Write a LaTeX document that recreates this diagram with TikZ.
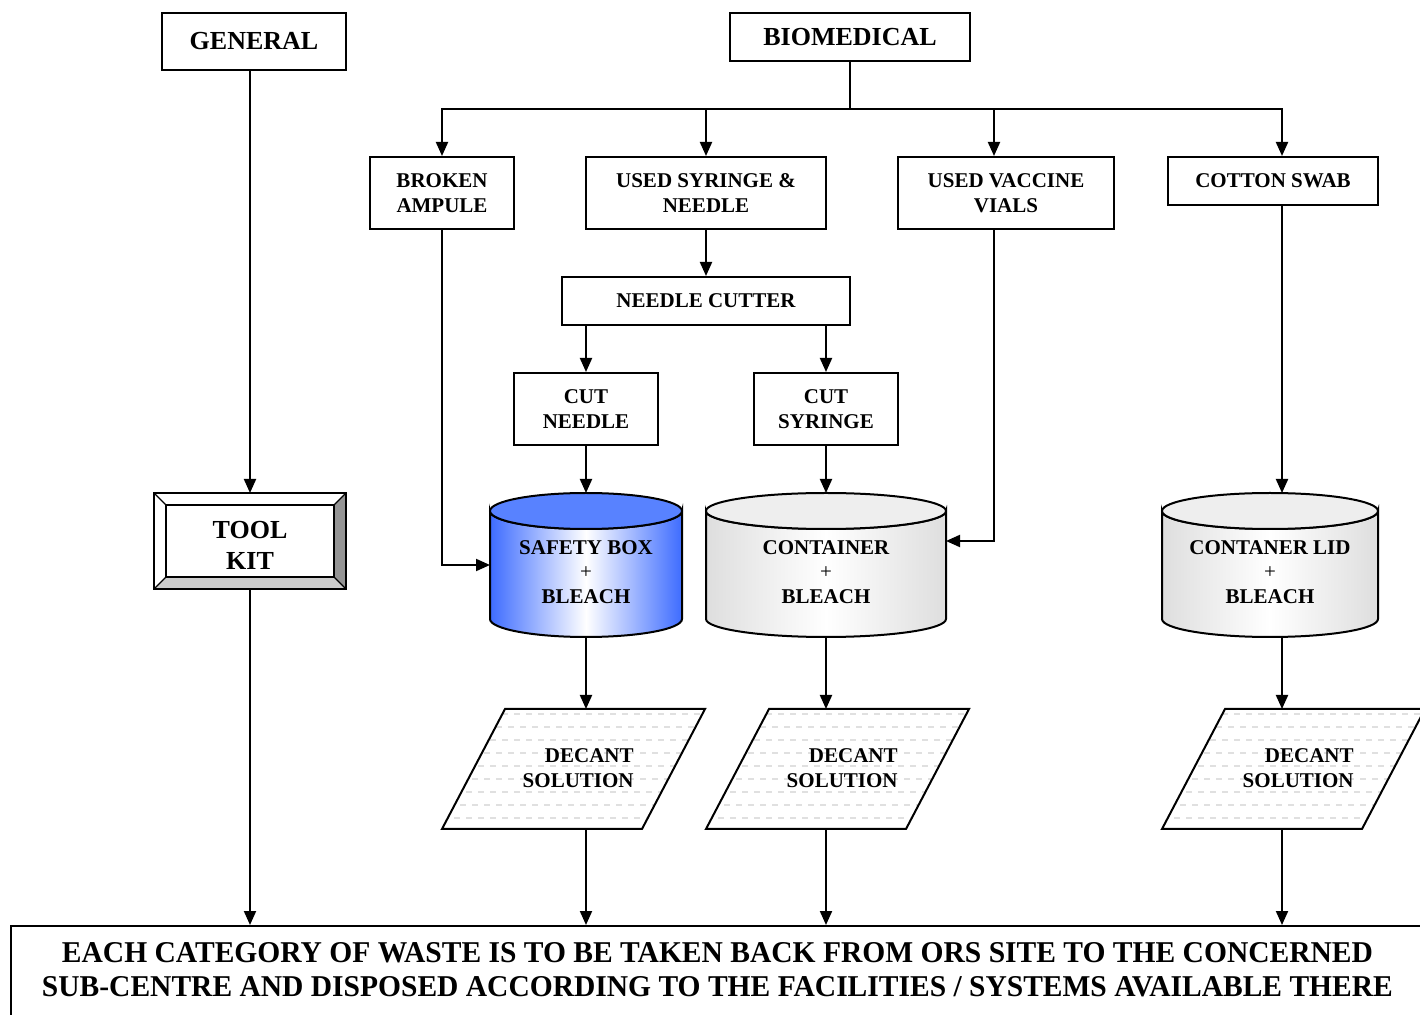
\documentclass[tikz,border=0pt]{standalone}
\usepackage{graphicx}
\usepackage{fontspec}
\setmainfont{Liberation Serif}
\usetikzlibrary{arrows.meta}
\definecolor{blueE}{RGB}{62,108,255}
\definecolor{blueT}{RGB}{88,130,255}
\definecolor{greyE}{RGB}{222,222,222}
\definecolor{greyT}{RGB}{238,238,238}
\newcommand\mycyl[6]{%
  \shadedraw[left color=#5,right color=#5,middle color=white,line width=1pt]
    (#1-#2,#3+18) -- (#1-#2,#4-18) arc[start angle=180,end angle=0,x radius=#2,y radius=18]
    -- (#1+#2,#3+18) arc[start angle=0,end angle=180,x radius=#2,y radius=18] -- cycle;
  \filldraw[fill=#6,line width=1pt] (#1,#3+18) ellipse[x radius=#2,y radius=18];
}
\newcommand\mypar[1]{%
  \begin{scope}
    \clip (#1+63,709) -- (#1+263,709) -- (#1+200,829) -- (#1,829) -- cycle;
    \fill[white] (#1,709) rectangle (#1+263,829);
    \foreach \k in {0,...,9}{
      \pgfmathsetmacro\ph{mod(\k,2)*3}
      \draw[black!12,line width=0.6pt,dash pattern=on 3pt off 3pt,dash phase=\ph pt]
        (#1,714+13*\k) -- (#1+263,714+13*\k);
    }
  \end{scope}
  \draw[line width=1pt] (#1+63,709) -- (#1+263,709) -- (#1+200,829) -- (#1,829) -- cycle;
}
\begin{document}
\begin{tikzpicture}[x=0.5pt,y=-0.5pt,
  box/.style={draw,line width=1pt,align=center,inner sep=0pt,fill=white,
    font=\bfseries\fontsize{10.5}{12.5}\selectfont},
  hbox/.style={box,font=\bfseries\fontsize{13}{15.5}\selectfont},
  txt/.style={align=center,inner sep=0pt,font=\bfseries\fontsize{10.5}{12.25}\selectfont},
  ptxt/.style={align=right,inner sep=0pt,anchor=east,font=\bfseries\fontsize{10.5}{12.5}\selectfont},
  holder/.style={inner sep=0pt,outer sep=0pt},
  arr/.style={line width=1pt,-{Triangle[length=7pt,width=6pt]}},
  ln/.style={line width=1pt}
]
\useasboundingbox (0,0) rectangle (1420,1015);

% top row
\node[hbox,minimum width=92pt,minimum height=28.5pt] (general) at (254,41.5) {GENERAL};
\node[hbox,minimum width=120pt,minimum height=24pt] (bio) at (850,37) {BIOMEDICAL};
\coordinate (hub) at (850,109);

\node[box,minimum width=72pt,minimum height=36pt] (broken) at (442,193) {BROKEN\\AMPULE};
\node[box,minimum width=120pt,minimum height=36pt] (syringe) at (706,193) {USED SYRINGE \&\\NEEDLE};
\node[box,minimum width=108pt,minimum height=36pt] (vials) at (1006,193) {USED VACCINE\\VIALS};
\node[box,minimum width=105pt,minimum height=24pt] (cotton) at (1273,181) {COTTON SWAB};

\node[box,minimum width=144pt,minimum height=24pt] (cutter) at (706,301) {NEEDLE CUTTER};
\node[box,minimum width=72pt,minimum height=36pt] (cutneedle) at (586,409) {CUT\\NEEDLE};
\node[box,minimum width=72pt,minimum height=36pt] (cutsyr) at (826,409) {CUT\\SYRINGE};

% tool kit
\fill[white] (154,493) -- (346,493) -- (334,505) -- (166,505) -- cycle;
\fill[white] (154,493) -- (166,505) -- (166,577) -- (154,589) -- cycle;
\fill[black!42] (346,493) -- (346,589) -- (334,577) -- (334,505) -- cycle;
\fill[black!20] (154,589) -- (346,589) -- (334,577) -- (166,577) -- cycle;
\draw[ln] (154,493) rectangle (346,589);
\draw[ln] (166,505) rectangle (334,577);
\draw[line width=0.7pt] (154,493) -- (166,505) (346,493) -- (334,505)
  (154,589) -- (166,577) (346,589) -- (334,577);
\node[holder,minimum width=96pt,minimum height=48pt] (toolkit) at (250,541) {};
\node[txt,font=\bfseries\fontsize{13}{15.5}\selectfont] (toolkittext) at (250,545) {TOOL\\KIT};

% cylinders
\mycyl{586}{96}{493}{637}{blueE}{blueT}
\mycyl{826}{120}{493}{637}{greyE}{greyT}
\mycyl{1270}{108}{493}{637}{greyE}{greyT}
\node[holder,minimum width=96pt,minimum height=72pt] (sbox) at (586,565) {};
\node[holder,minimum width=120pt,minimum height=72pt] (cont) at (826,565) {};
\node[holder,minimum width=108pt,minimum height=72pt] (lid) at (1270,565) {};
\node[txt] (sboxtext) at (586,572) {SAFETY BOX\\\textmd{+}\\BLEACH};
\node[txt] (conttext) at (826,572) {CONTAINER\\\textmd{+}\\BLEACH};
\node[txt] (lidtext) at (1270,572) {CONTANER LID\\\textmd{+}\\BLEACH};

% parallelograms
\mypar{442}
\mypar{706}
\mypar{1162}
\node[holder,minimum width=131.5pt,minimum height=60pt] (p1) at (573.5,769) {};
\node[holder,minimum width=131.5pt,minimum height=60pt] (p2) at (837.5,769) {};
\node[holder,minimum width=131.5pt,minimum height=60pt] (p3) at (1293.5,769) {};
\node[ptxt] (p1t) at (634,768) {DECANT\\SOLUTION};
\node[ptxt] (p2t) at (898,768) {DECANT\\SOLUTION};
\node[ptxt] (p3t) at (1354,768) {DECANT\\SOLUTION};

% bottom box
\node[draw,line width=1.2pt,fill=white,anchor=north west,inner sep=0pt,
  minimum width=720pt,minimum height=60pt] (bottom) at (10,925) {};
\node[anchor=base,inner sep=0pt] (b1) at (717.5,963)
  {\resizebox{655.5pt}{10pt}{\bfseries EACH CATEGORY OF WASTE IS TO BE TAKEN BACK FROM ORS SITE TO THE CONCERNED}};
\node[anchor=base,inner sep=0pt] (b2) at (717.5,996)
  {\resizebox{675.5pt}{10pt}{\bfseries SUB-CENTRE AND DISPOSED ACCORDING TO THE FACILITIES / SYSTEMS AVAILABLE THERE}};

% connectors
\draw[arr] (general.south -| toolkit.north) -- (toolkit.north);
\draw[arr] (toolkit.south) -- (toolkit.south |- bottom.north);
\draw[ln] (bio.south) -- (hub);
\draw[arr] (hub) -| (broken.north);
\draw[arr] (hub) -| (syringe.north);
\draw[arr] (hub) -| ([xshift=-6pt]vials.north);
\draw[arr] (hub) -| ([xshift=4.5pt]cotton.north);
\draw[arr] (syringe.south) -- (cutter.north);
\draw[arr] (cutter.south -| cutneedle.north) -- (cutneedle.north);
\draw[arr] (cutter.south -| cutsyr.north) -- (cutsyr.north);
\draw[arr] (cutneedle.south) -- (sbox.north);
\draw[arr] (cutsyr.south) -- (cont.north);
\draw[arr] (broken.south) |- (sbox.west);
\draw[arr] ([xshift=-6pt]vials.south) |- ([yshift=12pt]cont.east);
\draw[arr] ([xshift=4.5pt]cotton.south) -- ([xshift=4.5pt]cotton.south |- lid.north);
\draw[arr] (sbox.south) -- (sbox.south |- p1.north);
\draw[arr] (cont.south) -- (cont.south |- p2.north);
\draw[arr] ([xshift=6pt]lid.south) -- ([xshift=6pt]lid.south |- p3.north);
\draw[arr] (sbox.south |- p1.south) -- (sbox.south |- bottom.north);
\draw[arr] (cont.south |- p2.south) -- (cont.south |- bottom.north);
\draw[arr] ([xshift=6pt]lid.south |- p3.south) -- ([xshift=6pt]lid.south |- bottom.north);
\end{tikzpicture}
\end{document}
